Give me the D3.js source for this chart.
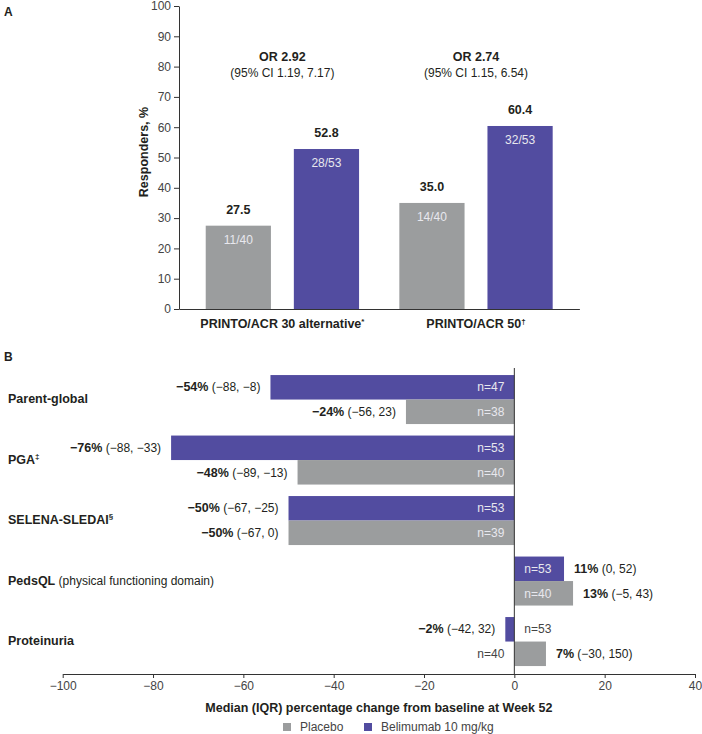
<!DOCTYPE html>
<html>
<head>
<meta charset="utf-8">
<script src="https://cdn.jsdelivr.net/npm/d3@7"></script>
<style>
  body { margin: 0; background: #fff; }
  svg { font-family: "Liberation Sans", Arial, sans-serif; }
</style>
</head>
<body>
<svg id="svgHolder"></svg>
<script>
// panel A data
let respCats = ['PRINTO/ACR 30 alternative', 'PRINTO/ACR 50'];
let respMarks = ['*', '\u2020'];
let respGroups = ['Placebo', 'Belimumab'];
let respPlacebo = [27.5, 35.0];
let respBeli = [52.8, 60.4];
let respPlaceboN = ['11/40', '14/40'];
let respBeliN = ['28/53', '32/53'];
let orLabels = ['OR 2.92', 'OR 2.74'];
let ciLabels = ['(95% CI 1.19, 7.17)', '(95% CI 1.15, 6.54)'];
let yTicksA = [0, 10, 20, 30, 40, 50, 60, 70, 80, 90, 100];

// panel B data
let chgCats = ['Parent-global', 'PGA', 'SELENA-SLEDAI', 'PedsQL', 'Proteinuria'];
let chgMarks = ['', '\u2021', '\u00a7', '', ''];
let chgSub = ['', '', '', ' (physical functioning domain)', ''];
let chgBeli = [-54, -76, -50, 11, -2];
let chgBeliIqr = ['(\u221288, \u22128)', '(\u221288, \u221233)', '(\u221267, \u221225)', '(0, 52)', '(\u221242, 32)'];
let chgBeliN = [47, 53, 53, 53, 53];
let chgPlacebo = [-24, -48, -50, 13, 7];
let chgPlaceboIqr = ['(\u221256, 23)', '(\u221289, \u221213)', '(\u221267, 0)', '(\u22125, 43)', '(\u221230, 150)'];
let chgPlaceboN = [38, 40, 39, 40, 40];
let xTicksB = [-100, -80, -60, -40, -20, 0, 20, 40];

let width = 702;
let height = 734;
let purple = '#524ca0';
let grey = '#9b9d9e';
let ink = '#231f20';

let svg = d3.select('#svgHolder').attr('width', width).attr('height', height);

function fmtNum(v) {
    return (v < 0 ? '\u2212' + Math.abs(v) : '' + v);
}

function drawPanelA() {
    let x0 = d3.scaleBand().domain(respCats).range([179, 579.4]).paddingInner(0.208).paddingOuter(0.138);
    let x1 = d3.scaleBand().domain(respGroups).range([0, x0.bandwidth()]).paddingInner(0.26);
    let y = d3.scaleLinear().domain([0, 100]).range([309, 6]);

    svg.append('text').attr('x', 4).attr('y', 16).attr('font-size', 12).attr('font-weight', 'bold')
        .attr('fill', ink).text('A');

    let rows = respCats.map((c, i) => ({
        cat: c,
        bars: [
            {g: 'Placebo', v: respPlacebo[i], n: respPlaceboN[i]},
            {g: 'Belimumab', v: respBeli[i], n: respBeliN[i]}
        ],
        or: orLabels[i],
        ci: ciLabels[i]
    }));

    let grp = svg.selectAll('.grpA').data(rows).enter().append('g')
        .attr('transform', (d) => 'translate(' + x0(d.cat) + ',0)');

    let bar = grp.selectAll('g.bar').data((d) => d.bars).enter().append('g').attr('class', 'bar');
    bar.append('rect')
        .attr('x', (d) => x1(d.g))
        .attr('y', (d) => y(d.v))
        .attr('width', x1.bandwidth())
        .attr('height', (d) => y(0) - y(d.v))
        .attr('fill', (d) => d.g == 'Placebo' ? grey : purple);
    bar.append('text')
        .attr('x', (d) => x1(d.g) + x1.bandwidth() / 2)
        .attr('y', (d) => y(d.v) - 12)
        .attr('text-anchor', 'middle').attr('font-size', 12.5).attr('font-weight', 'bold')
        .attr('fill', ink)
        .text((d) => d.v.toFixed(1));
    bar.append('text')
        .attr('x', (d) => x1(d.g) + x1.bandwidth() / 2)
        .attr('y', (d) => y(d.v) + 18)
        .attr('text-anchor', 'middle').attr('font-size', 12)
        .attr('fill', '#e8e8ee')
        .text((d) => d.n);

    grp.append('text')
        .attr('x', x0.bandwidth() / 2).attr('y', 61)
        .attr('text-anchor', 'middle').attr('font-size', 12.5).attr('font-weight', 'bold')
        .attr('fill', ink).text((d) => d.or);
    grp.append('text')
        .attr('x', x0.bandwidth() / 2).attr('y', 77)
        .attr('text-anchor', 'middle').attr('font-size', 12)
        .attr('fill', ink).text((d) => d.ci);

    let yAxis = d3.axisLeft(y).tickValues(yTicksA).tickSize(5).tickPadding(3).tickSizeOuter(0);
    let ya = svg.append('g').attr('transform', 'translate(179,0)').call(yAxis);
    ya.select('.domain').attr('stroke', '#333');
    ya.selectAll('.tick line').attr('stroke', '#333');
    ya.selectAll('.tick text').attr('font-size', 12).attr('fill', '#444').attr('font-family', null);

    let xAxis = d3.axisBottom(x0).tickSize(0).tickPadding(10).tickSizeOuter(0);
    let xa = svg.append('g').attr('transform', 'translate(0,309)').call(xAxis);
    xa.select('.domain').attr('stroke', '#333');
    xa.selectAll('.tick text').attr('font-size', 12.5).attr('font-weight', 'bold')
        .attr('fill', ink).attr('font-family', null)
        .append('tspan').attr('font-size', 8).attr('dy', '-0.5em')
        .text((d, i) => respMarks[i]);

    svg.append('text')
        .attr('transform', 'translate(148,152) rotate(-90)')
        .attr('text-anchor', 'middle').attr('font-size', 12.5).attr('font-weight', 'bold')
        .attr('fill', ink).text('Responders, %');
}

function drawPanelB() {
    let x = d3.scaleLinear().domain([-100, 40]).range([62.7, 695]);
    let y0 = d3.scaleBand().domain(chgCats).range([369, 672.1]).paddingInner(0.19).paddingOuter(0.1);
    let y1 = d3.scaleBand().domain(['Belimumab', 'Placebo']).range([0, y0.bandwidth()]);

    svg.append('text').attr('x', 4).attr('y', 361).attr('font-size', 12).attr('font-weight', 'bold')
        .attr('fill', ink).text('B');

    let rows = chgCats.map((c, i) => ({
        cat: c,
        mark: chgMarks[i],
        sub: chgSub[i],
        bars: [
            {g: 'Belimumab', v: chgBeli[i], iqr: chgBeliIqr[i], n: chgBeliN[i]},
            {g: 'Placebo', v: chgPlacebo[i], iqr: chgPlaceboIqr[i], n: chgPlaceboN[i]}
        ]
    }));

    let grp = svg.selectAll('.grpB').data(rows).enter().append('g')
        .attr('transform', (d) => 'translate(0,' + y0(d.cat) + ')');

    let lab = grp.append('text')
        .attr('x', 8).attr('y', y0.bandwidth() / 2 + 3.5)
        .attr('font-size', 12.5).attr('fill', ink);
    lab.append('tspan').attr('font-weight', 'bold').text((d) => d.cat);
    lab.append('tspan').attr('font-weight', 'bold').attr('font-size', 8).attr('dy', -5).text((d) => d.mark);
    lab.append('tspan').attr('font-size', 12).attr('dy', (d) => d.mark ? 5 : 0).text((d) => d.sub);

    let bar = grp.selectAll('g.bar').data((d) => d.bars).enter().append('g').attr('class', 'bar');
    bar.append('rect')
        .attr('x', (d) => x(Math.min(0, d.v)))
        .attr('y', (d) => y1(d.g))
        .attr('width', (d) => Math.abs(x(d.v) - x(0)))
        .attr('height', y1.bandwidth())
        .attr('fill', (d) => d.g == 'Placebo' ? grey : purple);

    // value + IQR label outside the bar end
    let val = bar.append('text')
        .attr('x', (d) => d.v < 0 ? x(d.v) - 10 : x(d.v) + 10)
        .attr('y', (d) => y1(d.g) + y1.bandwidth() / 2).attr('dy', '0.35em')
        .attr('text-anchor', (d) => d.v < 0 ? 'end' : 'start')
        .attr('font-size', 12).attr('fill', ink);
    val.append('tspan').attr('font-weight', 'bold').attr('font-size', 12.5).text((d) => fmtNum(d.v) + '%');
    val.append('tspan').text((d) => ' ' + d.iqr);

    // n label near zero line; goes to the other side when the bar is short
    let shortBar = (d) => Math.abs(x(d.v) - x(0)) <= 40;
    bar.append('text')
        .attr('x', (d) => (d.v < 0) != shortBar(d) ? x(0) - 10 : x(0) + 10)
        .attr('y', (d) => y1(d.g) + y1.bandwidth() / 2).attr('dy', '0.35em')
        .attr('text-anchor', (d) => (d.v < 0) != shortBar(d) ? 'end' : 'start')
        .attr('font-size', 12)
        .attr('fill', (d) => shortBar(d) ? '#444' : '#e8e8ee')
        .text((d) => 'n=' + d.n);

    svg.append('line')
        .attr('x1', x(0)).attr('x2', x(0)).attr('y1', 368).attr('y2', 674)
        .attr('stroke', '#333').attr('stroke-width', 1);

    let xAxis = d3.axisBottom(x).tickValues(xTicksB).tickFormat(fmtNum).tickSize(4).tickPadding(3).tickSizeOuter(0);
    let xa = svg.append('g').attr('transform', 'translate(0,674)').call(xAxis);
    xa.select('.domain').attr('stroke', '#333');
    xa.selectAll('.tick line').attr('stroke', '#333');
    xa.selectAll('.tick text').attr('font-size', 12).attr('fill', '#444').attr('font-family', null);

    svg.append('text')
        .attr('x', (x(-100) + x(40)) / 2).attr('y', 712)
        .attr('text-anchor', 'middle').attr('font-size', 12.5).attr('font-weight', 'bold')
        .attr('fill', ink).text('Median (IQR) percentage change from baseline at Week 52');

    let legend = [{name: 'Placebo', c: grey, x: 283}, {name: 'Belimumab 10 mg/kg', c: purple, x: 364}];
    let lg = svg.selectAll('.lg').data(legend).enter().append('g');
    lg.append('rect').attr('x', (d) => d.x).attr('y', 723).attr('width', 8).attr('height', 8).attr('fill', (d) => d.c);
    lg.append('text').attr('x', (d) => d.x + 17).attr('y', 727).attr('dy', '0.35em')
        .attr('font-size', 12).attr('fill', '#444').text((d) => d.name);
}

drawPanelA();
drawPanelB();
</script>
</body>
</html>
